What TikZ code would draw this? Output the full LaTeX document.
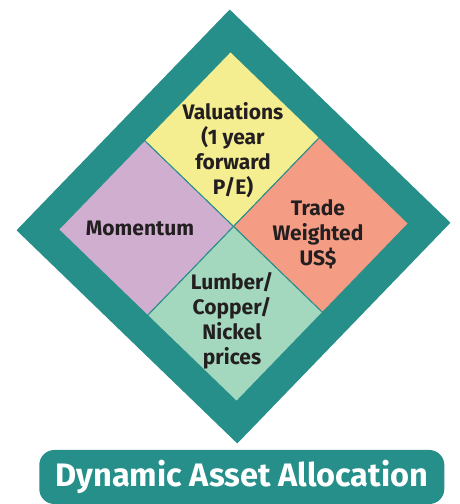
\documentclass[tikz,border=0pt]{standalone}
\usepackage{fontspec}
\setmainfont{Fira Sans}
\definecolor{daateal}{HTML}{268F8A}
\definecolor{daayellow}{HTML}{F5EE90}
\definecolor{daapurple}{HTML}{D0AED0}
\definecolor{daaorange}{HTML}{F59C84}
\definecolor{daagreen}{HTML}{A3D7BE}
\definecolor{daatext}{HTML}{231F20}
\tikzset{
  factor/.style={align=center,font=\bfseries\fontsize{21}{25}\selectfont,text=daatext,inner sep=0pt},
  quad/.style={draw=daateal,line width=1pt,line join=miter}
}
\begin{document}
\begin{tikzpicture}[x=1pt,y=1pt]
\useasboundingbox (0,0) rectangle (459,504);
\begin{scope}[shift={(233.5,277.5)},rotate=1]
\fill[daateal] (0,217) -- (217,0) -- (0,-217) -- (-217,0) -- cycle;
\filldraw[quad,fill=daayellow] (0,0) -- (-87.5,87.5) -- (0,175) -- (87.5,87.5) -- cycle;
\filldraw[quad,fill=daapurple] (0,0) -- (-87.5,87.5) -- (-175,0) -- (-87.5,-87.5) -- cycle;
\filldraw[quad,fill=daaorange] (0,0) -- (87.5,87.5) -- (175,0) -- (87.5,-87.5) -- cycle;
\filldraw[quad,fill=daagreen] (0,0) -- (-87.5,-87.5) -- (0,-175) -- (87.5,-87.5) -- cycle;
\end{scope}
\node[factor] (valuations) at (233,354) {Valuations\\(1 year\\forward\\P/E)};
\node[factor] (momentum) at (140,275.5) {Momentum};
\node[factor] (trade) at (318,270) {Trade\\Weighted\\US\$};
\node[factor] (metals) at (232,183) {Lumber/\\Copper/\\Nickel\\prices};
\node[fill=daateal,rounded corners=15pt,minimum width=405pt,minimum height=54pt,
  text=white,font=\bfseries\fontsize{32.5}{34}\selectfont] (banner) at (241.8,27) {Dynamic Asset Allocation};
\end{tikzpicture}
\end{document}
